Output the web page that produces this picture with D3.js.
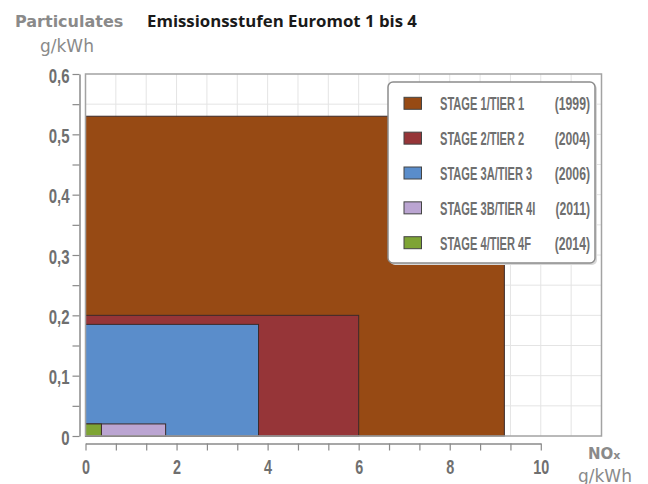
<!DOCTYPE html>
<html><head><meta charset="utf-8">
<script src="https://cdn.jsdelivr.net/npm/d3@7"></script>
<style>body{margin:0;background:#fff}svg{display:block}</style>
</head><body>
<script>
const stages = ["STAGE 1/TIER 1","STAGE 2/TIER 2","STAGE 3A/TIER 3","STAGE 3B/TIER 4I","STAGE 4/TIER 4F"];
const years = ["(1999)","(2004)","(2006)","(2011)","(2014)"];
const noxLimits = [9.2, 6.0, 3.8, 1.76, 0.35];
const pmLimits = [0.53, 0.2, 0.185, 0.02, 0.02];
const colors = ["#974a14","#963538","#5a8dcb","#bba5d2","#7ea434"];
const yTickLabels = ["0","0,1","0,2","0,3","0,4","0,5","0,6"];
const xTickLabels = ["0","2","4","6","8","10"];

const W = 648, H = 484;
const svg = d3.select("body").append("svg").attr("width", W).attr("height", H);

const x = d3.scaleLinear().domain([0, 34/3]).range([85.5, 601.5]);
const y = d3.scaleLinear().domain([0, 0.6]).range([436, 74]);

const tickFont = "'Liberation Sans', Arial, sans-serif";
const gray = "#6f6f6f";

// grid
const gridX = d3.range(1, 17).map(i => i * 2 / 3);
const gridY = d3.range(1, 12).map(i => i * 0.05);
svg.append("rect").attr("x", x(0)).attr("y", y(0.6)).attr("width", x(34/3) - x(0)).attr("height", y(0) - y(0.6)).attr("fill", "#fff");
svg.append("g").selectAll("line").data(gridX).join("line")
  .attr("x1", d => x(d)).attr("x2", d => x(d)).attr("y1", y(0.6)).attr("y2", y(0))
  .attr("stroke", "#e4e4e4").attr("stroke-width", 1);
svg.append("g").selectAll("line").data(gridY).join("line")
  .attr("x1", x(0)).attr("x2", x(34/3)).attr("y1", d => y(d)).attr("y2", d => y(d))
  .attr("stroke", "#e4e4e4").attr("stroke-width", 1);

// rectangles
const idx = d3.range(stages.length);
svg.append("g").selectAll("rect").data(idx).join("rect")
  .attr("x", x(0)).attr("y", i => y(pmLimits[i]))
  .attr("width", i => x(noxLimits[i]) - x(0))
  .attr("height", i => y(0) - y(pmLimits[i]))
  .attr("fill", i => colors[i]).attr("stroke", "#3b2b2b").attr("stroke-width", 1);

// frame
svg.append("rect").attr("x", x(0)).attr("y", y(0.6)).attr("width", x(34/3) - x(0)).attr("height", y(0) - y(0.6))
  .attr("fill", "none").attr("stroke", "#a3a3a3").attr("stroke-width", 1.5);

// y axis
const yAxis = d3.axisLeft(y).tickValues(d3.range(0, 13).map(i => i * 0.05)).tickSize(7).tickSizeOuter(0)
  .tickFormat((d, i) => i % 2 === 0 ? yTickLabels[i / 2] : "");
const gy = svg.append("g").attr("transform", "translate(79.5,0)").call(yAxis);
gy.select(".domain").attr("stroke", "#8a8a8a").attr("stroke-width", 1.5);
gy.selectAll(".tick line").attr("stroke", "#8a8a8a").attr("stroke-width", 1.2);
gy.selectAll(".tick text").attr("x", 0).attr("dy", "0.4em")
  .attr("transform", "translate(-10,0) scale(0.75,1)")
  .style("font-family", tickFont).style("font-weight", "bold").style("font-size", "20px").attr("fill", gray);

// x axis
const xa = x.copy().domain([0, 10]).range([x(0), x(10)]);
const xAxis = d3.axisBottom(xa).tickValues(d3.range(0, 16).map(i => i * 2 / 3)).tickSize(7).tickSizeOuter(0)
  .tickFormat((d, i) => i % 3 === 0 ? xTickLabels[i / 3] : "");
const gx = svg.append("g").attr("transform", "translate(0,443.5)").call(xAxis);
gx.select(".domain").attr("stroke", "#8a8a8a").attr("stroke-width", 1.5);
gx.selectAll(".tick line").attr("stroke", "#8a8a8a").attr("stroke-width", 1.2);
gx.selectAll(".tick text").attr("y", 0).attr("dy", 0)
  .attr("transform", "translate(0,30.5) scale(0.72,1)")
  .style("font-family", tickFont).style("font-weight", "bold").style("font-size", "20px").attr("fill", gray);

// legend
const lg = svg.append("g");
lg.append("rect").attr("x", 390).attr("y", 84).attr("width", 207).attr("height", 181).attr("rx", 5)
  .attr("fill", "#d8d8d8");
lg.append("rect").attr("x", 388).attr("y", 82).attr("width", 207).attr("height", 181).attr("rx", 5)
  .attr("fill", "#fff").attr("stroke", "#8c8c8c").attr("stroke-width", 1.5);
const rowY = i => 103.3 + i * 34.85;
const rows = lg.selectAll("g.row").data(idx).join("g").attr("class", "row");
rows.append("rect").attr("x", 404).attr("y", i => rowY(i) - 6).attr("width", 17.5).attr("height", 12)
  .attr("fill", i => colors[i]).attr("stroke", "#444").attr("stroke-width", 1);
rows.append("text").attr("transform", i => `translate(440,${rowY(i) + 6.8}) scale(0.6,1)`)
  .text(i => stages[i]).style("font-family", tickFont).style("font-weight", "bold").style("font-size", "18.5px").attr("fill", gray);
rows.append("text").attr("transform", i => `translate(590,${rowY(i) + 6.8}) scale(0.66,1)`)
  .attr("text-anchor", "end")
  .text(i => years[i]).style("font-family", tickFont).style("font-weight", "bold").style("font-size", "18.5px").attr("fill", gray);

// titles
svg.append("text").attr("x", 15).attr("y", 27).text("Particulates")
  .style("font-family", "'DejaVu Sans', sans-serif").style("font-weight", "bold").style("font-size", "16px").attr("fill", "#8a8a8a");
svg.append("text").attr("x", 40).attr("y", 52).text("g/kWh")
  .style("font-family", "'DejaVu Sans', sans-serif").style("font-size", "17px").attr("fill", "#8a8a8a");
svg.append("text").attr("x", 147).attr("y", 27).text("Emissionsstufen Euromot 1 bis 4")
  .style("font-family", "'Open Sans', sans-serif").style("font-weight", "700").style("font-size", "16.8px").attr("fill", "#1a1a1a");
const nox = svg.append("text").attr("x", 588).attr("y", 458.5)
  .style("font-family", "'DejaVu Sans', sans-serif").style("font-weight", "bold").style("font-size", "15px").attr("fill", "#8a8a8a");
nox.append("tspan").text("NO");
nox.append("tspan").text("x").style("font-size", "11px");
svg.append("text").attr("x", 578).attr("y", 481.5).text("g/kWh")
  .style("font-family", "'DejaVu Sans', sans-serif").style("font-size", "17px").attr("fill", "#8a8a8a");
</script>
</body></html>
